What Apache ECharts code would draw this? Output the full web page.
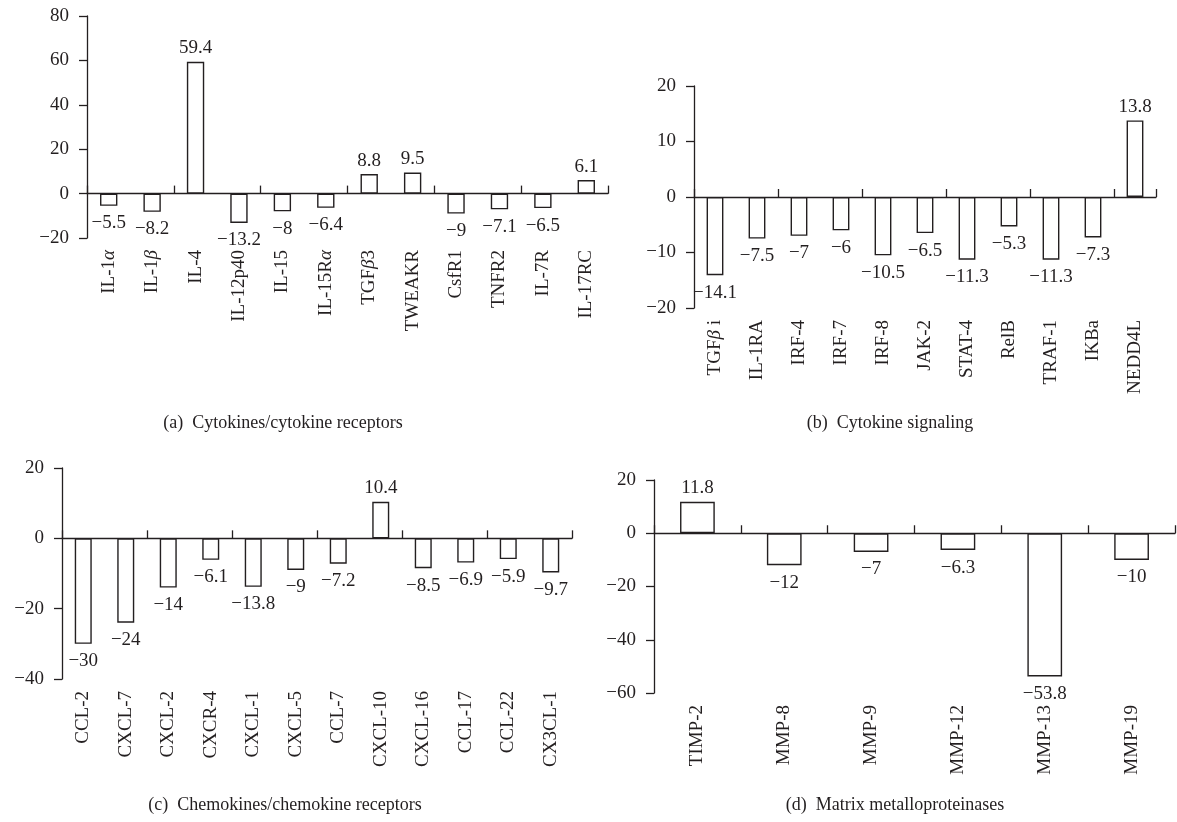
<!DOCTYPE html>
<html>
<head>
<meta charset="utf-8">
<title>Gene expression fold change</title>
<script src="https://cdn.jsdelivr.net/npm/echarts@6/dist/echarts.min.js"></script>
<style>
  html, body { margin: 0; padding: 0; background: #fff; }
  #chart { width: 1177px; height: 822px; }
</style>
</head>
<body>
<div id="chart"></div>
<script>
// (a) Cytokines/cytokine receptors
const catsA = ["IL-1α", "IL-1β", "IL-4", "IL-12p40", "IL-15", "IL-15Rα", "TGFβ3", "TWEAKR", "CsfR1", "TNFR2", "IL-7R", "IL-17RC"];
const valsA = [-5.5, -8.2, 59.4, -13.2, -8, -6.4, 8.8, 9.5, -9, -7.1, -6.5, 6.1];
// (b) Cytokine signaling
const catsB = ["TGFβ i", "IL-1RA", "IRF-4", "IRF-7", "IRF-8", "JAK-2", "STAT-4", "RelB", "TRAF-1", "IKBa", "NEDD4L"];
const valsB = [-14.1, -7.5, -7, -6, -10.5, -6.5, -11.3, -5.3, -11.3, -7.3, 13.8];
// (c) Chemokines/chemokine receptors
const catsC = ["CCL-2", "CXCL-7", "CXCL-2", "CXCR-4", "CXCL-1", "CXCL-5", "CCL-7", "CXCL-10", "CXCL-16", "CCL-17", "CCL-22", "CX3CL-1"];
const valsC = [-30, -24, -14, -6.1, -13.8, -9, -7.2, 10.4, -8.5, -6.9, -5.9, -9.7];
// (d) Matrix metalloproteinases
const catsD = ["TIMP-2", "MMP-8", "MMP-9", "MMP-12", "MMP-13", "MMP-19"];
const valsD = [11.8, -12, -7, -6.3, -53.8, -10];

const captions = [
  "(a)  Cytokines/cytokine receptors",
  "(b)  Cytokine signaling",
  "(c)  Chemokines/chemokine receptors",
  "(d)  Matrix metalloproteinases",
];
// y axis ranges [min, max, interval]
const yRanges = [
  [-20, 80, 20],
  [-20, 20, 10],
  [-40, 20, 20],
  [-60, 20, 20],
];

const FONT = "Liberation Serif";
const INK = "#231f20";
const minus = (v) => String(v).replace("-", "\u2212");

const grids = [
  { left: 87, top: 16, width: 521, height: 222 },
  { left: 694, top: 86, width: 462, height: 222 },
  { left: 62, top: 468, width: 510, height: 211 },
  { left: 654, top: 480, width: 521, height: 213 },
];
const captionPos = [
  { x: 283, y: 414 },
  { x: 890, y: 414 },
  { x: 285, y: 796 },
  { x: 895, y: 796 },
];

const panels = [
  [catsA, valsA],
  [catsB, valsB],
  [catsC, valsC],
  [catsD, valsD],
];

const xAxis = [];
const yAxis = [];
const series = [];

panels.forEach(([cats, vals], i) => {
  // labels at the bottom of the plot
  xAxis.push({
    type: "category",
    gridIndex: i,
    data: cats,
    position: "bottom",
    axisLine: { show: false, onZero: false },
    axisTick: { show: false },
    axisLabel: {
      interval: 0,
      rotate: 90,
      margin: 12,
      color: INK,
      fontFamily: FONT,
      fontSize: 19,
      formatter: (s) => s.replace(/([αβ])/g, "{g|$1}"),
      rich: { g: { fontStyle: "italic", fontFamily: FONT, fontSize: 19, color: INK } },
    },
    splitLine: { show: false },
  });
  // zero line with ticks
  xAxis.push({
    type: "category",
    gridIndex: i,
    data: cats,
    axisLine: { show: true, onZero: true, lineStyle: { color: INK, width: 1.3 } },
    axisTick: { show: true, length: 8, lineStyle: { color: INK, width: 1.3 } },
    axisLabel: { show: false },
    splitLine: { show: false },
  });
  const [min, max, interval] = yRanges[i];
  yAxis.push({
    type: "value",
    gridIndex: i,
    min: min,
    max: max,
    interval: interval,
    axisLine: { show: true, lineStyle: { color: INK, width: 1.3 } },
    axisTick: { show: true, length: 8, lineStyle: { color: INK, width: 1.3 } },
    axisLabel: {
      margin: 18,
      color: INK,
      fontFamily: FONT,
      fontSize: 19,
      formatter: minus,
    },
    splitLine: { show: false },
  });
  series.push({
    type: "bar",
    xAxisIndex: i * 2,
    yAxisIndex: i,
    barWidth: "40%",
    itemStyle: { color: "#fff", borderColor: INK, borderWidth: 1.4 },
    label: {
      show: true,
      color: INK,
      fontFamily: FONT,
      fontSize: 19,
      formatter: (p) => minus(p.value),
    },
    data: vals.map((v) => ({
      value: v,
      label: v < 0 ? { position: "bottom", distance: 8 } : { position: "top", distance: 4 },
    })),
  });
});

const chart = echarts.init(document.getElementById("chart"));
const option = {
  animation: false,
  backgroundColor: "#fff",
  grid: grids.map((g) => Object.assign({ containLabel: false }, g)),
  xAxis: xAxis,
  yAxis: yAxis,
  series: series,
  graphic: captions.map((t, i) => ({
    type: "text",
    x: captionPos[i].x,
    y: captionPos[i].y,
    style: {
      text: t,
      fill: INK,
      font: "18px " + FONT,
      textAlign: "center",
    },
  })),
};
chart.setOption(option);
</script>
</body>
</html>
